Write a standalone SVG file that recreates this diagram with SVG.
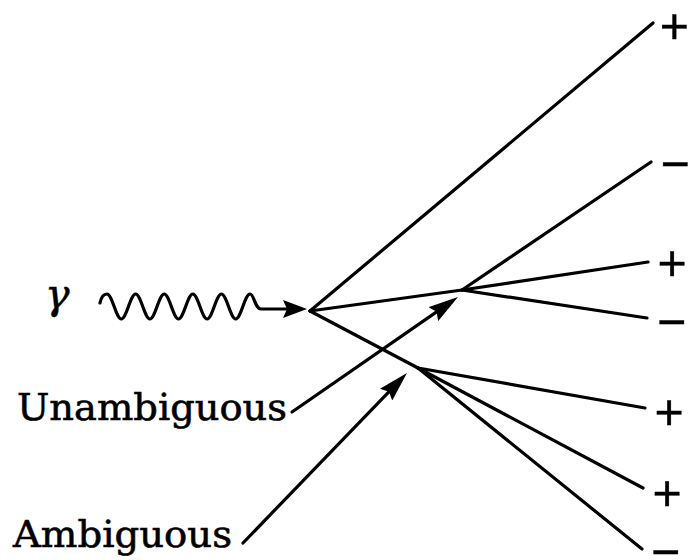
<svg xmlns="http://www.w3.org/2000/svg" width="689" height="560" viewBox="0 0 689 560">
<style>
.ln{fill:none;stroke:#000;stroke-width:3.2;stroke-linecap:round;stroke-linejoin:round}
.lbl{font-family:"DejaVu Serif","Liberation Serif",serif;font-size:37px;fill:#000;stroke:#000;stroke-width:0.6}
.sg{font-family:"Liberation Sans","DejaVu Sans",sans-serif;font-size:50px;fill:#000;stroke:#000;stroke-width:0.4;text-anchor:middle;dominant-baseline:central}
.gam{font-family:"DejaVu Serif","Liberation Serif",serif;font-style:italic;font-size:41px;fill:#000;stroke:#000;stroke-width:0.5}
</style>
<defs>
<marker id="arrowS" markerUnits="userSpaceOnUse" viewBox="0 0 24 18" refX="16" refY="9" markerWidth="24" markerHeight="18" orient="auto">
<path d="M0,0 L24,9 L0,18 L4,9 Z" fill="#000"/>
</marker>
<marker id="arrowL" markerUnits="userSpaceOnUse" viewBox="0 0 30 17" refX="22" refY="8.5" markerWidth="30" markerHeight="17" orient="auto">
<path d="M0,0 L30,8.5 L0,17 L4,8.5 Z" fill="#000"/>
</marker>
</defs>
<rect width="689" height="560" fill="#fff"/>

<g id="connectors">
<path id="photon" class="ln" marker-end="url(#arrowS)" d="M100,303 C101,298 103,294 107,294 C112.2,294 116.1,319 121.3,319 C126.5,319 130.4,294 135.6,294 C140.8,294 144.7,319 149.9,319 C155.1,319 159,294 164.2,294 C169.4,294 173.3,319 178.5,319 C183.7,319 187.6,294 192.8,294 C198,294 201.9,319 207.1,319 C212.3,319 216.2,294 221.4,294 C226.6,294 230.5,319 235.7,319 C240.9,319 244.8,294 250,294 C254,294 255,309 261,309 L299,309"/>
<line class="ln" x1="310" y1="311" x2="653" y2="23"/>
<line class="ln" x1="310" y1="311" x2="462" y2="290"/>
<line class="ln" x1="310" y1="311" x2="418" y2="368"/>
<line class="ln" x1="462" y1="290" x2="651" y2="162"/>
<line class="ln" x1="462" y1="290" x2="648" y2="262"/>
<line class="ln" x1="462" y1="290" x2="647" y2="318"/>
<line class="ln" x1="418" y1="368" x2="645" y2="408"/>
<line class="ln" x1="418" y1="368" x2="643" y2="488"/>
<line class="ln" x1="418" y1="368" x2="642" y2="549"/>
<path class="ln" marker-end="url(#arrowL)" d="M292,412 L451.4,301.6"/>
<path class="ln" marker-end="url(#arrowL)" d="M243,543 L401.4,378.8"/>
</g>

<g id="gamma"><text class="gam" x="45" y="308">γ</text></g>
<g id="unambiguous"><text class="lbl" x="17" y="420" textLength="270" lengthAdjust="spacingAndGlyphs">Unambiguous</text></g>
<g id="ambiguous"><text class="lbl" x="13" y="547" textLength="219" lengthAdjust="spacingAndGlyphs">Ambiguous</text></g>

<g id="sign1"><text class="sg" x="689" y="26" style="text-anchor:end">+</text></g>
<g id="sign2"><text class="sg" x="675" y="164">−</text></g>
<g id="sign3"><text class="sg" x="672" y="263">+</text></g>
<g id="sign4"><text class="sg" x="671.5" y="322">−</text></g>
<g id="sign5"><text class="sg" x="669" y="412">+</text></g>
<g id="sign6"><text class="sg" x="667" y="493">+</text></g>
<g id="sign7"><text class="sg" x="665.5" y="552">−</text></g>
</svg>
